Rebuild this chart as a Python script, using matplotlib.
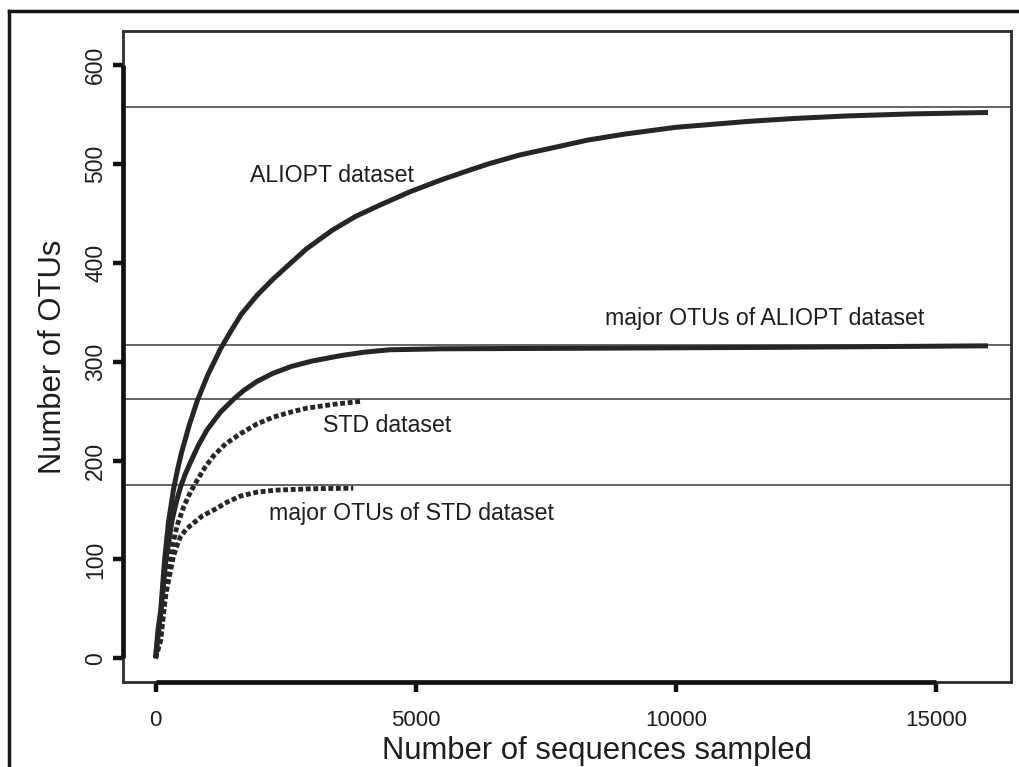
import matplotlib
matplotlib.use("Agg")
import matplotlib.pyplot as plt
from matplotlib.lines import Line2D

plt.rcParams['font.family'] = ['Liberation Sans', 'DejaVu Sans']

# ---- data ----
aliopt_x = [0, 50, 100, 175, 250, 350, 420, 500, 650, 800, 1000, 1250, 1450, 1650,
            1950, 2250, 2500, 2900, 3400, 3850, 4300, 4900, 5500, 6000, 6400, 7000,
            7700, 8300, 9000, 10000, 11400, 12300, 13300, 14500, 16000]
aliopt_y = [0, 30, 48, 100, 138, 172, 190, 208, 236, 260, 286, 313, 331, 348,
            367, 383, 395, 414, 433, 447, 458, 472, 484, 493, 500, 509,
            517, 524, 530, 537, 543, 546, 548.5, 550.5, 552]

major_aliopt_x = [0, 100, 200, 320, 400, 480, 570, 670, 820, 990, 1250, 1500, 1700,
                  1950, 2250, 2600, 3000, 3550, 4000, 4500, 5500, 8000, 12000, 16000]
major_aliopt_y = [0, 45, 100, 140, 158, 173, 186, 198, 215, 231, 249, 262, 271,
                  280, 288, 295, 300.5, 306, 309.5, 312, 313, 313.5, 314.5, 316]

std_x = [0, 100, 220, 320, 420, 540, 670, 800, 950, 1120, 1350, 1630, 1950, 2270,
         2600, 2910, 3450, 3970]
std_y = [0, 18, 79, 113, 135, 153, 168, 180, 193, 205, 217, 227, 237, 244,
         249, 253, 257, 260]

major_std_x = [0, 100, 200, 343, 420, 480, 600, 736, 900, 1121, 1380, 1630, 1950,
               2300, 3000, 3800]
major_std_y = [0, 25, 65, 103, 115, 123, 131, 137, 144, 150, 158, 164, 168,
               170, 171.5, 172]

hlines = [558, 317, 262, 175]

labels = ["ALIOPT dataset", "major OTUs of ALIOPT dataset",
          "STD dataset", "major OTUs of STD dataset"]
label_x = [1816, 8638, 3225, 2187]
label_y = [482, 337, 229, 140]

xticks = [0, 5000, 10000, 15000]
yticks = [0, 100, 200, 300, 400, 500, 600]
xlabel = "Number of sequences sampled"
ylabel = "Number of OTUs"

# ---- figure ----
fig = plt.figure(figsize=(10.19, 7.67), dpi=100)
ax = fig.add_axes([0.1207, 0.1108, 0.8714, 0.8488])

curve_col = '#262626'
lw_curve = 3.6

for y in hlines:
    ax.axhline(y, color='#3a3a3a', lw=1.1, zorder=1)

ax.plot(aliopt_x, aliopt_y, color=curve_col, lw=lw_curve, solid_capstyle='butt',
        solid_joinstyle='round', zorder=3)
ax.plot(major_aliopt_x, major_aliopt_y, color=curve_col, lw=lw_curve,
        solid_capstyle='butt', solid_joinstyle='round', zorder=3)
ax.plot(std_x, std_y, color=curve_col, lw=3.5, linestyle=(0, (1.0, 0.55)),
        dash_capstyle='butt', zorder=3)
ax.plot(major_std_x, major_std_y, color=curve_col, lw=3.5, linestyle=(0, (1.0, 0.55)),
        dash_capstyle='butt', zorder=3)

for t, x, y in zip(labels, label_x, label_y):
    ax.text(x, y, t, fontsize=16.7, color='#1e1e1e', ha='left', va='baseline')

ax.set_xlim(-625, 16442)
ax.set_ylim(-24, 634.4)
ax.set_xticks(xticks)
ax.set_yticks(yticks)
ax.set_xticklabels([str(v) for v in xticks])
ax.set_yticklabels([str(v) for v in yticks], rotation=90, va='center')

for s in ax.spines.values():
    s.set_linewidth(2.0)
    s.set_color('#2e2e2e')

ax.tick_params(axis='both', direction='out', length=7.5, width=3.2, color='#111111',
               labelsize=16, labelcolor='#1e1e1e')
ax.tick_params(axis='x', pad=13)
ax.tick_params(axis='y', pad=4, labelsize=16.5)

# R-style axis lines spanning first to last tick
ax.plot([xticks[0], xticks[-1]], [0, 0], transform=ax.get_xaxis_transform(),
        color='#111111', lw=3.4, clip_on=False, solid_capstyle='butt', zorder=5)
ax.plot([0, 0], [yticks[0], yticks[-1]], transform=ax.get_yaxis_transform(),
        color='#111111', lw=3.4, clip_on=False, solid_capstyle='butt', zorder=5)

ax.set_xlabel(xlabel, fontsize=22.3, color='#1e1e1e')
ax.set_ylabel(ylabel, fontsize=22.3, color='#1e1e1e')
ax.xaxis.set_label_coords(0.534, -0.083)
ax.yaxis.set_label_coords(-0.0614, 0.5)

# outer frame (top and left)
fig.add_artist(Line2D([9 / 1019, 1.0], [1 - 11 / 767, 1 - 11 / 767],
                      transform=fig.transFigure, color='#1a1612', lw=2.5))
fig.add_artist(Line2D([9 / 1019, 9 / 1019], [0.0, 1 - 11 / 767],
                      transform=fig.transFigure, color='#1a1612', lw=2.5))

fig.savefig("out.png", dpi=100)
